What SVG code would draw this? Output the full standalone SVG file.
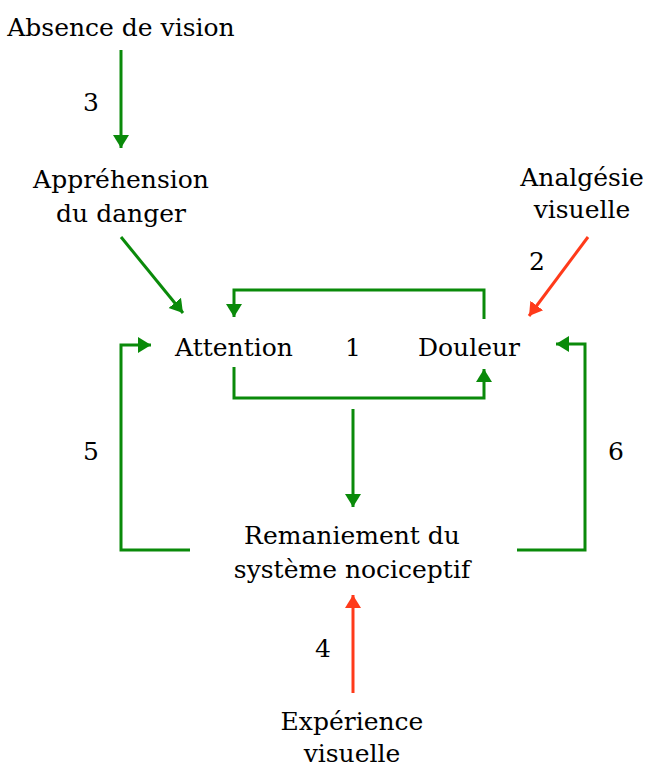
<svg xmlns="http://www.w3.org/2000/svg" width="653" height="768" viewBox="0 0 653 768">
<style>
.g{stroke:#0a8a0a;stroke-width:3;fill:none}
.r{stroke:#ff3a1a;stroke-width:3;fill:none}
</style>
<defs>
<marker id="ag" markerUnits="userSpaceOnUse" markerWidth="14" markerHeight="18" refX="13" refY="8" orient="auto" viewBox="0 0 14 16"><path d="M0,0 L13,8 L0,16 z" fill="#0a8a0a"/></marker>
<marker id="ar" markerUnits="userSpaceOnUse" markerWidth="14" markerHeight="18" refX="13" refY="8" orient="auto" viewBox="0 0 14 16"><path d="M0,0 L13,8 L0,16 z" fill="#ff3a1a"/></marker>
</defs>
<g font-family="'DejaVu Serif', 'Liberation Serif', serif" font-size="25" text-anchor="middle" fill="#000">
<g id="absence"><text x="121" y="36">Absence de vision</text></g>
<g id="apprehension"><text x="121" y="188">Appréhension</text><text x="121" y="222">du danger</text></g>
<g id="analgesie"><text x="582" y="186">Analgésie</text><text x="582" y="218">visuelle</text></g>
<g id="attention"><text x="234" y="356">Attention</text></g>
<g id="douleur"><text x="469" y="356">Douleur</text></g>
<g id="remaniement"><text x="352" y="544">Remaniement du</text><text x="352" y="578">système nociceptif</text></g>
<g id="experience"><text x="352" y="730">Expérience</text><text x="352" y="762">visuelle</text></g>
<g id="labels">
<text x="91" y="111">3</text>
<text x="537" y="270">2</text>
<text x="353" y="356">1</text>
<text x="91" y="460">5</text>
<text x="616" y="460">6</text>
<text x="323" y="657">4</text>
</g>
</g>
<g id="connectors">
<path class="g" d="M121,50 V148" marker-end="url(#ag)"/>
<path class="g" d="M121,237 L183,313" marker-end="url(#ag)"/>
<path class="g" d="M484,319 V290 H234 V317" marker-end="url(#ag)"/>
<path class="g" d="M234,367 V398 H484 V369" marker-end="url(#ag)"/>
<path class="g" d="M353,409 V507" marker-end="url(#ag)"/>
<path class="g" d="M190,550 H121 V345 H151" marker-end="url(#ag)"/>
<path class="g" d="M517,550 H585 V344 H556" marker-end="url(#ag)"/>
<path class="r" d="M588,237 L529,316" marker-end="url(#ar)"/>
<path class="r" d="M353,693 V595" marker-end="url(#ar)"/>
</g>
</svg>
